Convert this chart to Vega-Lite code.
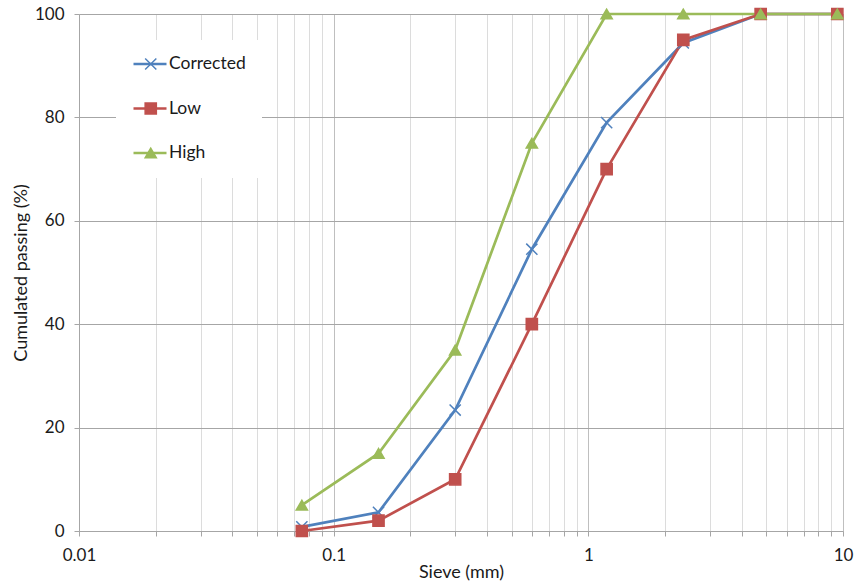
{
  "$schema": "https://vega.github.io/schema/vega-lite/v6.json",
  "width": 764,
  "height": 517,
  "autosize": {"type": "none"},
  "padding": {"left": 79, "top": 14, "right": 12, "bottom": 53},
  "background": "white",
  "config": {
    "view": {"stroke": null},
    "font": "Lato",
    "axis": {
      "labelFont": "Lato",
      "titleFont": "Lato",
      "labelColor": "#1a1a1a",
      "titleColor": "#1a1a1a",
      "titleFontWeight": "normal",
      "labelFontSize": 17,
      "titleFontSize": 18
    }
  },
  "data": {
    "values": [
      {"series": "Corrected", "sieve": 0.075, "passing": 0.8},
      {"series": "Corrected", "sieve": 0.15, "passing": 3.6},
      {"series": "Corrected", "sieve": 0.3, "passing": 23.4},
      {"series": "Corrected", "sieve": 0.6, "passing": 54.5},
      {"series": "Corrected", "sieve": 1.18, "passing": 79},
      {"series": "Corrected", "sieve": 2.36, "passing": 94.4},
      {"series": "Corrected", "sieve": 4.75, "passing": 100},
      {"series": "Corrected", "sieve": 9.5, "passing": 100},
      {"series": "Low", "sieve": 0.075, "passing": 0},
      {"series": "Low", "sieve": 0.15, "passing": 2},
      {"series": "Low", "sieve": 0.3, "passing": 10},
      {"series": "Low", "sieve": 0.6, "passing": 40},
      {"series": "Low", "sieve": 1.18, "passing": 70},
      {"series": "Low", "sieve": 2.36, "passing": 95},
      {"series": "Low", "sieve": 4.75, "passing": 100},
      {"series": "Low", "sieve": 9.5, "passing": 100},
      {"series": "High", "sieve": 0.075, "passing": 5},
      {"series": "High", "sieve": 0.15, "passing": 15},
      {"series": "High", "sieve": 0.3, "passing": 35},
      {"series": "High", "sieve": 0.6, "passing": 75},
      {"series": "High", "sieve": 1.18, "passing": 100},
      {"series": "High", "sieve": 2.36, "passing": 100},
      {"series": "High", "sieve": 4.75, "passing": 100},
      {"series": "High", "sieve": 9.5, "passing": 100}
    ]
  },
  "encoding": {
    "x": {
      "field": "sieve",
      "type": "quantitative",
      "scale": {"type": "log", "domain": [0.01, 10]},
      "axis": {
        "title": "Sieve (mm)",
        "values": [0.01, 0.02, 0.03, 0.04, 0.05, 0.06, 0.07, 0.08, 0.09, 0.1, 0.2, 0.3, 0.4, 0.5, 0.6, 0.7, 0.8, 0.9, 1, 2, 3, 4, 5, 6, 7, 8, 9, 10],
        "labelExpr": "indexof([0.01, 0.1, 1, 10], datum.value) >= 0 ? toString(datum.value) : ''",
        "labelFlush": false,
        "labelOverlap": false,
        "labelPadding": 11,
        "grid": true,
        "gridColor": {"condition": {"test": "indexof([0.01, 0.1, 1, 10], datum.value) >= 0", "value": "#BFBFBF"}, "value": "#DCDCDC"},
        "gridWidth": 1,
        "domainColor": "#A6A6A6",
        "tickColor": "#A6A6A6",
        "tickSize": 5,
        "titlePadding": 0
      }
    },
    "y": {
      "field": "passing",
      "type": "quantitative",
      "scale": {"domain": [0, 100]},
      "axis": {
        "title": "Cumulated passing (%)",
        "values": [0, 20, 40, 60, 80, 100],
        "grid": true,
        "gridColor": "#A6A6A6",
        "domainColor": "#A6A6A6",
        "tickColor": "#A6A6A6",
        "tickSize": 5,
        "labelPadding": 10,
        "titlePadding": 4
      }
    }
  },
  "layer": [
    {
      "mark": {"type": "line", "strokeWidth": 2.7},
      "encoding": {
        "color": {
          "field": "series",
          "type": "nominal",
          "scale": {"domain": ["Corrected", "Low", "High"], "range": ["#4F81BD", "#C0504D", "#9BBB59"]},
          "legend": {
            "orient": "none",
            "legendX": 37,
            "legendY": 26,
            "title": null,
            "symbolType": "stroke",
            "symbolSize": 1089,
            "symbolStrokeWidth": 2.7,
            "fillColor": "white",
            "padding": 16,
            "labelFont": "Lato",
            "labelFontSize": 17.5,
            "labelColor": "#1a1a1a",
            "labelOffset": 1,
            "rowPadding": 26.5,
            "clipHeight": 16
          }
        }
      }
    },
    {
      "mark": {"type": "point", "filled": true, "size": 125, "strokeWidth": 1.5, "opacity": 1},
      "encoding": {
        "fill": {
          "field": "series",
          "type": "nominal",
          "scale": {"domain": ["High", "Low", "Corrected"], "range": ["#9BBB59", "#C0504D", "#4F81BD"]},
          "legend": {
            "orient": "none",
            "legendX": 47,
            "legendY": 26,
            "values": ["Corrected", "Low", "High"],
            "title": null,
            "padding": 16,
            "symbolSize": 125,
            "symbolStrokeWidth": 1.5,
            "labelFont": "Lato",
            "labelFontSize": 17.5,
            "labelOpacity": 0,
            "rowPadding": 26.5,
            "clipHeight": 16
          }
        },
        "stroke": {
          "field": "series",
          "type": "nominal",
          "scale": {"domain": ["High", "Low", "Corrected"], "range": ["#9BBB59", "#C0504D", "#4F81BD"]}
        },
        "shape": {
          "field": "series",
          "type": "nominal",
          "scale": {"domain": ["High", "Low", "Corrected"], "range": ["triangle-up", "square", "M-1,-1L1,1M-1,1L1,-1"]}
        }
      }
    }
  ]
}
